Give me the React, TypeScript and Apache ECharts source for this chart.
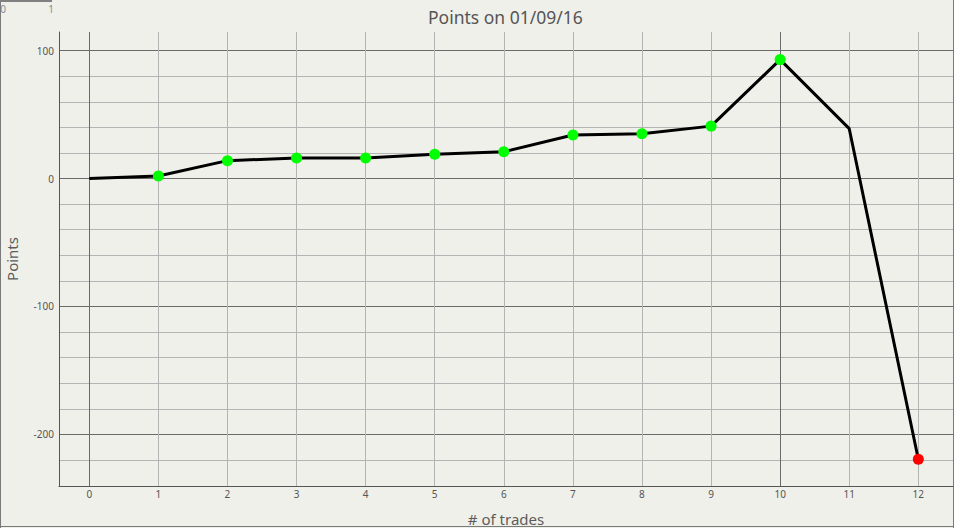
import React, { useEffect, useRef } from "react";
import * as echarts from "echarts";

const titleText = "Points on 01/09/16";
const xName = "# of trades";
const yName = "Points";

const trades = [0, 1, 2, 3, 4, 5, 6, 7, 8, 9, 10, 11, 12];
const points = [0, 2, 14, 16, 16, 19, 21, 34, 35, 41, 93, 39, -219.5];
const markerColors = ["none", "#00ff00", "#00ff00", "#00ff00", "#00ff00", "#00ff00", "#00ff00", "#00ff00", "#00ff00", "#00ff00", "#00ff00", "none", "#ff0000"];

const xTickValues = [0, 1, 2, 3, 4, 5, 6, 7, 8, 9, 10, 11, 12];
const yGridValues = [-220, -200, -180, -160, -140, -120, -100, -80, -60, -40, -20, 0, 20, 40, 60, 80, 100];
const yLabelValues = [-200, -100, 0, 100];
const cornerLabels = ["0", "1"];

const MAJOR = "#6a6a6a";
const MINOR = "#b4b4b4";
const TEXT = "#555555";
const BG = "#f0f0ea";
const FONT = "Noto Sans";

export default function App() {
  const ref = useRef<HTMLDivElement>(null);

  useEffect(() => {
    document.body.style.margin = "0";
    const chart = echarts.init(ref.current!, null, { renderer: "svg" });

    const data = trades.map((t, i) => ({
      value: [t, points[i]],
      symbol: markerColors[i] === "none" ? "none" : "circle",
      itemStyle: { color: markerColors[i] === "none" ? "#000" : markerColors[i] },
    }));

    const option: any = {
      animation: false,
      backgroundColor: BG,
      title: {
        text: titleText,
        left: 428,
        top: 8,
        padding: 0,
        textStyle: { fontFamily: FONT, fontSize: 17.5, fontWeight: "normal", color: TEXT },
      },
      grid: { left: 59, right: 1, top: 32, bottom: 42, containLabel: false, outerBoundsMode: "none" },
      xAxis: {
        type: "value",
        min: -0.4386,
        max: 12.502,
        name: xName,
        nameLocation: "middle",
        nameGap: 25,
        nameTextStyle: { fontFamily: FONT, fontSize: 15, color: "#5c5c5c" },
        axisLine: { show: true, onZero: false, lineStyle: { color: "#555", width: 1 } },
        axisTick: { show: false, customValues: xTickValues },
        axisLabel: {
          customValues: xTickValues,
          margin: 3,
          fontFamily: FONT,
          fontSize: 10,
          color: TEXT,
        },
        splitLine: {
          show: true,
          lineStyle: { width: 1, color: xTickValues.map((v) => (v % 10 === 0 ? MAJOR : MINOR)) },
        },
      },
      yAxis: {
        type: "value",
        min: -240.4,
        max: 114.6,
        name: yName,
        nameLocation: "middle",
        nameGap: 40,
        nameTextStyle: { fontFamily: FONT, fontSize: 15, color: "#5c5c5c" },
        axisLine: { show: true, onZero: false, lineStyle: { color: "#555", width: 1 } },
        axisTick: { show: false, customValues: yGridValues },
        axisLabel: {
          customValues: yLabelValues,
          margin: 5,
          fontFamily: FONT,
          fontSize: 10,
          color: TEXT,
        },
        splitLine: {
          show: true,
          lineStyle: { width: 1, color: yGridValues.map((v) => (v % 100 === 0 ? MAJOR : MINOR)) },
        },
      },
      graphic: [
        { type: "line", shape: { x1: 0.5, y1: 0, x2: 0.5, y2: 528 }, style: { stroke: "#7a7a7a", lineWidth: 1 }, silent: true },
        { type: "line", shape: { x1: 953.5, y1: 0, x2: 953.5, y2: 528 }, style: { stroke: "#7a7a7a", lineWidth: 1 }, silent: true },
        { type: "line", shape: { x1: 0, y1: 526.5, x2: 954, y2: 526.5 }, style: { stroke: "#7a7a7a", lineWidth: 1 }, silent: true },
        { type: "line", shape: { x1: 0, y1: 1, x2: 52, y2: 1 }, style: { stroke: "#808080", lineWidth: 2 }, silent: true },
        {
          type: "text",
          x: 3,
          y: 9,
          style: { text: cornerLabels[0], fontFamily: FONT, fontSize: 10, fill: "#8a8a8a", align: "center", verticalAlign: "middle" },
          silent: true,
        },
        {
          type: "text",
          x: 51,
          y: 9,
          style: { text: cornerLabels[1], fontFamily: FONT, fontSize: 10, fill: "#8a8a8a", align: "center", verticalAlign: "middle" },
          silent: true,
        },
      ],
      series: [
        {
          type: "line",
          data,
          symbolSize: 11,
          lineStyle: { color: "#000", width: 3 },
          itemStyle: { borderWidth: 0 },
          z: 5,
        },
      ],
    };

    chart.setOption(option);
    return () => chart.dispose();
  }, []);

  return (
    <div
      ref={ref}
      style={{ position: "absolute", left: 0, top: 0, width: 954, height: 528 }}
    />
  );
}
